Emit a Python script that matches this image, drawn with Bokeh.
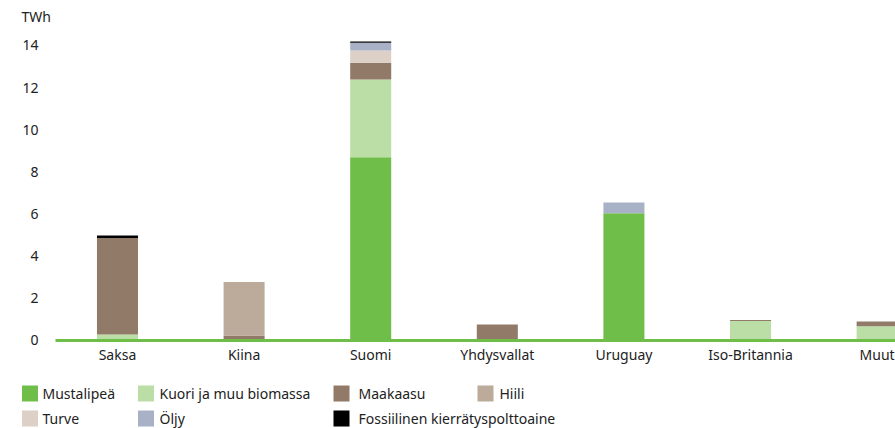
from bokeh.plotting import figure
from bokeh.models import ColumnDataSource, Range1d, FixedTicker
from bokeh.layouts import column
from bokeh.embed import file_html
from bokeh.resources import INLINE
from bokeh.core.properties import value

# ---------------- data ----------------
categories = ["Saksa", "Kiina", "Suomi", "Yhdysvallat", "Uruguay", "Iso-Britannia", "Muut"]
series = ["Mustalipeä", "Kuori ja muu biomassa", "Maakaasu", "Hiili", "Turve", "Öljy",
          "Fossiilinen kierrätyspolttoaine"]
mustalipea = [0.0, 0.0, 8.70, 0.0, 6.04, 0.0, 0.0]
kuori = [0.28, 0.0, 3.69, 0.0, 0.0, 0.92, 0.68]
maakaasu = [4.58, 0.24, 0.79, 0.76, 0.0, 0.05, 0.22]
hiili = [0.0, 2.53, 0.0, 0.0, 0.0, 0.0, 0.0]
turve = [0.0, 0.0, 0.58, 0.0, 0.0, 0.0, 0.0]
oljy = [0.0, 0.0, 0.37, 0.0, 0.51, 0.0, 0.0]
fossiilinen = [0.12, 0.0, 0.06, 0.0, 0.0, 0.0, 0.0]
colors = ["#70be4a", "#bbdda6", "#927a68", "#bcab9a", "#dcd0c7", "#a9b1c6", "#000000"]
y_ticks = [0, 2, 4, 6, 8, 10, 12, 14]
unit_label = "TWh"

FONT = "Noto Sans"
TXT = "#222222"
W = 895


def bare(fig):
    fig.xgrid.visible = False
    fig.ygrid.visible = False
    fig.outline_line_color = None
    fig.background_fill_color = "white"
    fig.border_fill_color = "white"


# ---------------- top strip (unit label) ----------------
top = figure(width=W, height=30, output_backend="svg", toolbar_location=None,
             x_range=Range1d(0, W), y_range=Range1d(30, 0), min_border=0,
             x_axis_type=None, y_axis_type=None)
bare(top)
top.text(x=[21], y=[16], text=[unit_label], text_font=value(FONT), text_font_size="14px",
         text_color=TXT, text_baseline="middle", text_align="left")

# ---------------- main chart ----------------
keys = ["s%d" % i for i in range(len(series))]
xs = list(range(len(categories)))
src = ColumnDataSource(dict(x=xs, s0=mustalipea, s1=kuori, s2=maakaasu, s3=hiili,
                            s4=turve, s5=oljy, s6=fossiilinen))

X0, X1 = -0.49, 6.145          # visible plotting band
p = figure(width=W, height=347, output_backend="svg", toolbar_location=None,
           x_range=Range1d(-0.924, X1), y_range=Range1d(-1.756, 14.33),
           min_border_left=0, min_border_right=0, min_border_top=8, min_border_bottom=0)
bare(p)
p.vbar_stack(keys, x="x", width=0.324, color=colors, line_width=0, source=src)

p.xaxis.fixed_location = 0
p.xaxis.ticker = FixedTicker(ticks=xs)
p.xaxis.bounds = (X0, X1)
p.xaxis.major_label_overrides = {i: c for i, c in zip(xs, categories)}
p.xaxis.axis_line_color = "#70be4a"
p.xaxis.axis_line_width = 3
p.xaxis.major_tick_line_color = None
p.xaxis.minor_tick_line_color = None
p.xaxis.major_tick_in = 0
p.xaxis.major_tick_out = 0
p.xaxis.major_label_standoff = 5
p.xaxis.major_label_text_font = FONT
p.xaxis.major_label_text_font_size = "14px"
p.xaxis.major_label_text_color = TXT

p.yaxis.fixed_location = X0
p.yaxis.ticker = FixedTicker(ticks=y_ticks)
p.yaxis.bounds = (0, 14.33)
p.yaxis.axis_line_color = None
p.yaxis.major_tick_line_color = None
p.yaxis.minor_tick_line_color = None
p.yaxis.major_tick_in = 0
p.yaxis.major_tick_out = 0
p.yaxis.major_label_standoff = 17
p.yaxis.major_label_text_font = FONT
p.yaxis.major_label_text_font_size = "14px"
p.yaxis.major_label_text_color = TXT

# ---------------- legend strip ----------------
leg = figure(width=W, height=51, output_backend="svg", toolbar_location=None,
             x_range=Range1d(0, W), y_range=Range1d(51, 0),
             min_border=0, x_axis_type=None, y_axis_type=None)
bare(leg)

# layout of the legend grid (px within the strip)
sq_left = [21.5, 137.5, 333, 477, 21.5, 137.5, 333]
txt_left = [42, 159, 358, 499, 42, 159, 358]
row_y = [16, 16, 16, 16, 41, 41, 41]
lsrc = ColumnDataSource(dict(
    x=[s + 8 for s in sq_left], y=row_y, tx=txt_left, c=colors, t=series))
leg.rect(x="x", y="y", width=16, height=16, fill_color="c", line_color=None, source=lsrc)
leg.text(x="tx", y="y", text="t", text_font=value(FONT), text_font_size="14px",
         text_color=TXT, text_baseline="middle", text_align="left", source=lsrc)

layout = column(top, p, leg, spacing=0)
open("out.html", "w").write(file_html(layout, INLINE))
